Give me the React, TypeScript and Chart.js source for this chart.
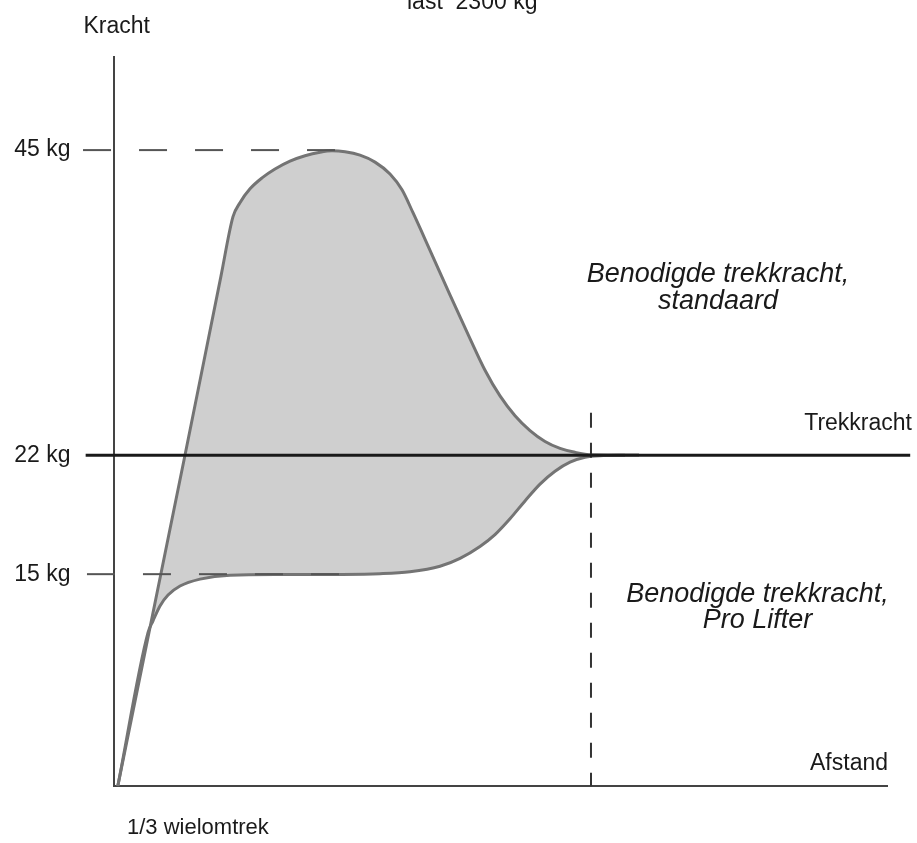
import { useEffect, useRef } from 'react';
import { Chart, registerables } from 'chart.js';

Chart.register(...registerables);

const FONT = '"Liberation Sans", Arial, Helvetica, sans-serif';

// Y tick levels (chart units) and their labels
const yTickValues = [15, 23.41, 45];
const yTickLabels = ['15 kg', '22 kg', '45 kg'];

// Benodigde trekkracht, standaard
const upperX = [0.55, 9.24, 13.9, 15.45, 16.35, 17.65, 19.2, 20.88, 22.82, 24.76, 26.7, 28.25, 29.93, 31.87, 33.81, 35.75, 37.3, 38.72, 40.92, 43.5, 46.09, 48.03, 49.97, 51.91, 53.85, 55.79, 57.73, 59.67, 61.86, 67.94];
const upperY = [0, 23.41, 36.1, 40.29, 41.28, 42.26, 43.03, 43.66, 44.22, 44.6, 44.85, 44.95, 44.88, 44.64, 44.15, 43.31, 42.19, 40.57, 37.91, 34.76, 31.67, 29.43, 27.61, 26.21, 25.16, 24.39, 23.9, 23.62, 23.45, 23.43];

// Benodigde trekkracht, Pro Lifter
const lowerX = [0.55, 4.46, 5.11, 6.01, 7.05, 8.6, 11.18, 15.06, 21.53, 29.28, 34.45, 38.33, 42.21, 44.8, 47.38, 49.32, 51.26, 53.2, 55.14, 57.08, 59.02, 60.96, 62.9, 66.13];
const lowerY = [0, 10.86, 11.7, 12.75, 13.52, 14.16, 14.65, 14.93, 14.97, 14.98, 15.03, 15.17, 15.56, 16.12, 16.96, 17.8, 18.92, 20.18, 21.37, 22.28, 22.92, 23.27, 23.38, 23.41];

// Trekkracht level line
const trekX = [-3.6, 103];
const trekY = [23.41, 23.41];

// dashed reference lines
const dash45X = [-3.94, 28.64];
const dash45Y = [45, 45];
const dash15X = [-3.43, 29.28];
const dash15Y = [15, 15];
const vDashX = [61.73, 61.73];
const vDashY = [26.42, 0];

const pts = (xs: number[], ys: number[]) => xs.map((x, i) => ({ x, y: ys[i] }));

const textPlugin = {
  id: 'annotTexts',
  afterDraw(chart: any) {
    const { ctx, chartArea: ca, scales } = chart;
    const y = scales.y;
    ctx.save();
    ctx.fillStyle = '#1a1a1a';
    ctx.textBaseline = 'alphabetic';
    ctx.font = `23px ${FONT}`;
    ctx.textAlign = 'left';
    ctx.fillText('Kracht', ca.left - 30, ca.top - 24);
    ctx.fillText('last  2300 kg', ca.left + 293.5, 9);
    ctx.textAlign = 'right';
    ctx.fillText('Trekkracht', ca.right + 25, y.getPixelForValue(23.41) - 25);
    ctx.fillText('Afstand', ca.right + 1, ca.bottom - 16);
    ctx.font = `22px ${FONT}`;
    ctx.textAlign = 'left';
    ctx.fillText('1/3 wielomtrek', ca.left + 13.5, ca.bottom + 48);
    ctx.font = `italic 27px ${FONT}`;
    ctx.textAlign = 'center';
    ctx.fillText('Benodigde trekkracht,', ca.left + 604.5, 282);
    ctx.fillText('standaard', ca.left + 604.5, 309);
    ctx.fillText('Benodigde trekkracht,', ca.left + 644, 602);
    ctx.fillText('Pro Lifter', ca.left + 644, 628);
    ctx.restore();
  },
};

export default function App() {
  const ref = useRef<HTMLCanvasElement>(null);
  useEffect(() => {
    document.body.style.margin = '0';
    const chart = new Chart(ref.current as HTMLCanvasElement, {
      type: 'line',
      data: {
        datasets: [
          {
            label: 'Trekkracht',
            data: pts(trekX, trekY),
            borderColor: '#1a1a1a',
            borderWidth: 3,
            fill: false,
            clip: false as any,
            tension: 0,
          },
          {
            label: '45 kg',
            data: pts(dash45X, dash45Y),
            borderColor: '#555',
            borderWidth: 2,
            borderDash: [28, 28],
            fill: false,
            clip: false as any,
          },
          {
            label: '15 kg',
            data: pts(dash15X, dash15Y),
            borderColor: '#555',
            borderWidth: 2,
            borderDash: [28, 28],
            fill: false,
            clip: false as any,
          },
          {
            label: '1/3',
            data: pts(vDashX, vDashY),
            borderColor: '#333',
            borderWidth: 2,
            borderDash: [15, 15],
            fill: false,
            clip: false as any,
          },
          {
            label: 'standaard',
            data: pts(upperX, upperY),
            borderColor: '#747474',
            borderWidth: 3,
            backgroundColor: '#cfcfcf',
            fill: '+1',
            cubicInterpolationMode: 'monotone',
          },
          {
            label: 'Pro Lifter',
            data: pts(lowerX, lowerY),
            borderColor: '#747474',
            borderWidth: 3,
            fill: false,
            cubicInterpolationMode: 'monotone',
          },
        ],
      },
      options: {
        responsive: false,
        animation: false,
        devicePixelRatio: 1,
        layout: { padding: { top: 56, right: 30, left: 0, bottom: 0 } },
        elements: { point: { radius: 0, hoverRadius: 0 } },
        plugins: {
          legend: { display: false },
          tooltip: { enabled: false },
          filler: { drawTime: 'beforeDatasetsDraw' },
        } as any,
        scales: {
          x: {
            type: 'linear',
            min: 0,
            max: 100,
            grid: { display: false, drawTicks: false },
            ticks: { display: false },
            border: { display: true, color: '#444', width: 2 },
            afterFit: (s: any) => {
              s.height = 51;
            },
          },
          y: {
            type: 'linear',
            min: 0,
            max: 51.6,
            grid: { display: false, drawTicks: false },
            border: { display: true, color: '#444', width: 2 },
            ticks: {
              autoSkip: false,
              padding: 43,
              color: '#1a1a1a',
              font: { size: 23, family: FONT },
              callback: (_v: any, i: number) => yTickLabels[i],
            },
            afterBuildTicks: (s: any) => {
              s.ticks = yTickValues.map((v) => ({ value: v }));
            },
            afterFit: (s: any) => {
              s.width = 113.5;
            },
          },
        },
      },
      plugins: [textPlugin],
    });
    return () => chart.destroy();
  }, []);
  return (
    <div style={{ width: 917, height: 843 }}>
      <canvas ref={ref} width={917} height={843} style={{ display: 'block' }} />
    </div>
  );
}
